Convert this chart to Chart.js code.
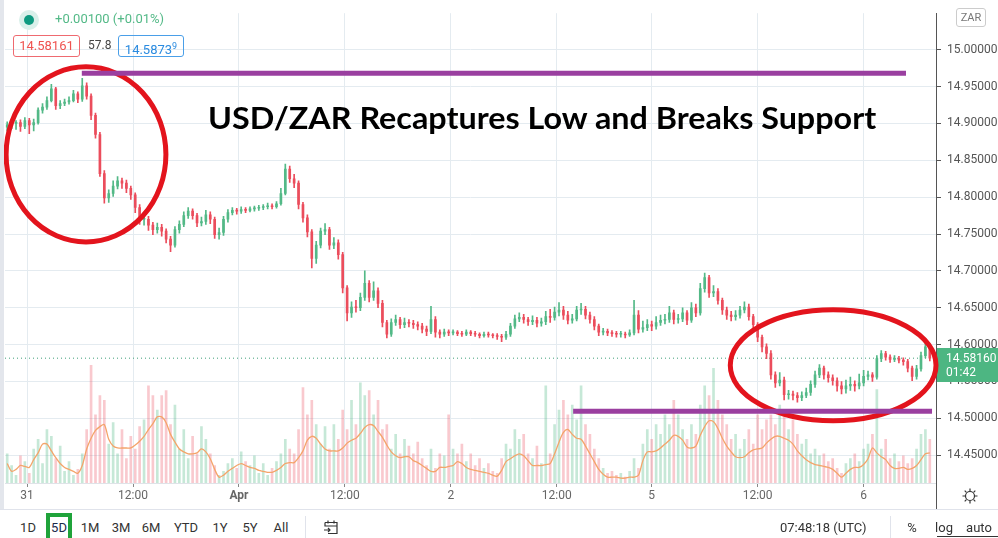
<!DOCTYPE html>
<html lang="en">
<head>
<meta charset="UTF-8">
<title>USD/ZAR 5D</title>
<style>
  body { margin: 0; width: 998px; height: 538px; background: #fff; position: relative; overflow: hidden;
         font-family: Roboto, "Liberation Sans", sans-serif; color: #333; }
  #chartBox { position: absolute; left: 0; top: 0; width: 998px; height: 510px; }
  .abs { position: absolute; white-space: nowrap; }
  .leftStrip { left: 0; top: 0; width: 4px; height: 510px; background: #e3e6ec; }
  .sepLine { left: 0; top: 509px; width: 998px; height: 1px; background: #e0e3eb; }
  .box { height: 20px; line-height: 20px; border-radius: 3px; font-size: 13px; text-align: center; top: 35px; }
  #title { left: 208px; top: 102px; font: bold 31px Lato, "Open Sans", sans-serif; color: #000; line-height: 31px;
           transform-origin: 0 0; }
  .tb { top: 519px; font-size: 13px; line-height: 18px; color: #333; transform: translateX(-50%); }
</style>
</head>
<body>
  <div id="chartBox"><canvas id="fxChart" width="998" height="510"></canvas></div>
  <div class="abs leftStrip"></div>
  <div class="abs sepLine"></div>

  <!--legend row-->
  <div class="abs" style="left:19px;top:10px;width:20px;height:20px;border-radius:50%;background:#d9f0ea"></div>
  <div class="abs" style="left:24px;top:15px;width:10px;height:10px;border-radius:50%;background:#0e9a80"></div>
  <div class="abs" style="left:55px;top:11px;font-size:13px;color:#53b987">+0.00100 (+0.01%)</div>
  <div class="abs box" style="left:13px;width:65px;border:1px solid #ef6a70;color:#ef5350">14.58161</div>
  <div class="abs" style="left:88px;top:38px;font-size:12px;color:#444">57.8</div>
  <div class="abs box" style="left:118px;width:64px;border:1px solid #4a9fe8;color:#2a8be0">14.5873<sup style="font-size:9px;vertical-align:5px">9</sup></div>
  <div class="abs" style="left:956px;top:8px;width:28px;height:17px;line-height:17px;border:1px solid #ccc;border-radius:3px;font-size:11px;color:#777;text-align:center">ZAR</div>

  <div id="title" class="abs">USD/ZAR Recaptures Low and Breaks Support</div>

  <!--settings icon on the axis corner-->
  <svg class="abs" style="left:961px;top:487px" width="18" height="18" viewBox="0 0 18 18">
    <circle cx="9" cy="9" r="4.5" fill="none" stroke="#333" stroke-width="1.2"/>
    <path d="M9 1.5v2.5M9 14v2.5M1.5 9h2.5M14 9h2.5M3.7 3.7l1.7 1.7M12.6 12.6l1.7 1.7M3.7 14.3l1.7-1.7M12.6 5.4l1.7-1.7" stroke="#333" stroke-width="1.2"/>
  </svg>

  <!--bottom toolbar-->
  <div class="abs" style="left:46px;top:513px;width:18px;height:21px;border:4px solid #1fa33a;border-bottom:none;background:#fff"></div>
  <div class="abs tb" style="left:59px;color:#1b2a4a">5D</div>
  <div class="abs tb" style="left:28px">1D</div>
  <div class="abs tb" style="left:90px">1M</div>
  <div class="abs tb" style="left:121px">3M</div>
  <div class="abs tb" style="left:151px">6M</div>
  <div class="abs tb" style="left:186px">YTD</div>
  <div class="abs tb" style="left:220px">1Y</div>
  <div class="abs tb" style="left:250px">5Y</div>
  <div class="abs tb" style="left:281px">All</div>
  <div class="abs" style="left:305px;top:516px;width:1px;height:22px;background:#e0e3eb"></div>
  <svg class="abs" style="left:322px;top:518px" width="18" height="18" viewBox="0 0 18 18">
    <path d="M3 4.5h12v11H6M3 4.5v4M6 2.5v3M12 2.5v3M3 8h12M2 12h6M6 10l2 2-2 2" fill="none" stroke="#333" stroke-width="1.2"/>
  </svg>
  <div class="abs" style="left:780px;top:519px;font-size:13px;line-height:18px">07:48:18 (UTC)</div>
  <div class="abs" style="left:890px;top:516px;width:1px;height:22px;background:#e0e3eb"></div>
  <div class="abs tb" style="left:912px">%</div>
  <div class="abs tb" style="left:944px">log</div>
  <div class="abs tb" style="left:979px">auto</div>
  <div class="abs" style="left:937px;top:536px;width:61px;height:1px;background:#333"></div>

<script src="https://cdn.jsdelivr.net/npm/chart.js"></script>
<script>
    // 30 minute bars, 30 Mar 21:30 .. 6 Apr 07:48 (weekend squeezed out)
    const firstOpen = 14.895;
    const closes = [
        14.898,14.900,14.901,14.896,14.904,14.898,14.901,14.918,14.922,14.931,
        14.947,14.924,14.927,14.929,14.931,14.940,14.933,14.951,14.937,14.911,
        14.885,14.832,14.799,14.805,14.815,14.822,14.819,14.812,14.803,14.786,
        14.770,14.770,14.762,14.756,14.759,14.754,14.743,14.735,14.756,14.763,
        14.775,14.781,14.775,14.765,14.767,14.776,14.770,14.749,14.752,14.770,
        14.779,14.782,14.781,14.783,14.782,14.784,14.785,14.786,14.787,14.788,
        14.787,14.791,14.805,14.838,14.825,14.819,14.790,14.772,14.753,14.717,
        14.735,14.754,14.756,14.735,14.738,14.722,14.677,14.643,14.651,14.650,
        14.664,14.683,14.664,14.673,14.656,14.630,14.614,14.630,14.634,14.627,
        14.630,14.629,14.627,14.625,14.621,14.618,14.634,14.617,14.614,14.617,
        14.616,14.617,14.615,14.614,14.617,14.615,14.614,14.612,14.614,14.613,
        14.612,14.611,14.610,14.614,14.625,14.635,14.637,14.634,14.631,14.633,
        14.629,14.631,14.638,14.637,14.644,14.647,14.640,14.633,14.635,14.647,
        14.648,14.640,14.634,14.625,14.617,14.618,14.616,14.615,14.614,14.614,
        14.613,14.616,14.640,14.621,14.623,14.627,14.625,14.630,14.633,14.634,
        14.643,14.634,14.635,14.643,14.633,14.650,14.643,14.676,14.691,14.670,
        14.672,14.660,14.647,14.640,14.638,14.640,14.647,14.651,14.638,14.627,
        14.610,14.597,14.588,14.559,14.548,14.552,14.532,14.533,14.531,14.528,
        14.531,14.535,14.546,14.559,14.568,14.559,14.555,14.551,14.544,14.540,
        14.544,14.546,14.544,14.548,14.557,14.559,14.556,14.581,14.588,14.583,
        14.580,14.581,14.579,14.577,14.568,14.557,14.567,14.585,14.597,14.5816
    ];
    const highs = [
        14.902,14.905,14.904,14.905,14.908,14.907,14.906,14.921,14.927,14.936,
        14.953,14.949,14.931,14.933,14.936,14.945,14.943,14.961,14.955,14.940,
        14.914,14.888,14.836,14.810,14.822,14.828,14.826,14.823,14.815,14.806,
        14.790,14.778,14.774,14.766,14.765,14.763,14.757,14.747,14.760,14.768,
        14.780,14.786,14.784,14.778,14.773,14.782,14.780,14.773,14.758,14.774,
        14.783,14.786,14.785,14.787,14.786,14.787,14.788,14.789,14.790,14.792,
        14.791,14.794,14.812,14.845,14.842,14.831,14.822,14.793,14.776,14.756,
        14.740,14.758,14.764,14.759,14.745,14.742,14.725,14.680,14.658,14.660,
        14.670,14.700,14.687,14.685,14.677,14.660,14.633,14.635,14.640,14.637,
        14.636,14.634,14.633,14.631,14.629,14.625,14.652,14.638,14.620,14.621,
        14.620,14.620,14.619,14.618,14.620,14.619,14.618,14.616,14.617,14.617,
        14.615,14.615,14.614,14.618,14.629,14.640,14.643,14.641,14.637,14.639,
        14.637,14.636,14.645,14.648,14.651,14.657,14.652,14.645,14.641,14.652,
        14.656,14.652,14.644,14.638,14.628,14.622,14.621,14.619,14.618,14.618,
        14.617,14.620,14.660,14.646,14.632,14.634,14.632,14.638,14.640,14.641,
        14.652,14.647,14.641,14.650,14.646,14.657,14.655,14.683,14.697,14.694,
        14.680,14.676,14.663,14.651,14.645,14.646,14.652,14.658,14.655,14.641,
        14.630,14.613,14.601,14.592,14.563,14.562,14.556,14.538,14.537,14.535,
        14.536,14.541,14.551,14.564,14.573,14.571,14.563,14.559,14.555,14.550,
        14.552,14.556,14.551,14.560,14.565,14.564,14.562,14.585,14.592,14.591,
        14.586,14.585,14.584,14.582,14.580,14.571,14.572,14.590,14.608,14.600
    ];
    const lows = [
        14.890,14.893,14.892,14.889,14.893,14.886,14.890,14.899,14.914,14.919,
        14.929,14.919,14.920,14.924,14.926,14.929,14.928,14.930,14.933,14.905,
        14.880,14.828,14.792,14.793,14.801,14.811,14.812,14.806,14.797,14.779,
        14.763,14.762,14.755,14.749,14.751,14.747,14.738,14.726,14.732,14.751,
        14.760,14.771,14.770,14.760,14.761,14.763,14.764,14.744,14.743,14.748,
        14.766,14.776,14.777,14.778,14.779,14.780,14.781,14.782,14.783,14.784,
        14.784,14.785,14.789,14.803,14.820,14.813,14.784,14.766,14.746,14.704,
        14.710,14.731,14.749,14.729,14.730,14.716,14.670,14.632,14.637,14.644,
        14.646,14.660,14.658,14.660,14.650,14.624,14.609,14.611,14.626,14.622,
        14.623,14.624,14.622,14.620,14.616,14.612,14.615,14.610,14.609,14.611,
        14.612,14.613,14.612,14.611,14.612,14.612,14.611,14.609,14.610,14.610,
        14.609,14.607,14.604,14.607,14.611,14.622,14.631,14.629,14.626,14.627,
        14.624,14.625,14.627,14.630,14.633,14.639,14.634,14.628,14.629,14.632,
        14.641,14.635,14.629,14.620,14.612,14.613,14.612,14.611,14.610,14.610,
        14.609,14.611,14.613,14.616,14.617,14.619,14.619,14.621,14.626,14.628,
        14.630,14.628,14.629,14.631,14.627,14.630,14.638,14.640,14.671,14.664,
        14.665,14.655,14.641,14.634,14.632,14.633,14.636,14.643,14.633,14.621,
        14.604,14.590,14.581,14.553,14.542,14.544,14.525,14.526,14.525,14.522,
        14.524,14.528,14.531,14.542,14.555,14.553,14.549,14.545,14.537,14.533,
        14.534,14.538,14.537,14.540,14.544,14.552,14.550,14.553,14.577,14.579,
        14.576,14.577,14.575,14.572,14.563,14.551,14.553,14.564,14.582,14.578
    ];
    const volumes = [
        30,18,8,28,22,10,35,45,20,55,
        48,25,38,12,22,8,14,30,55,121,
        70,90,85,40,62,30,55,25,48,35,
        58,65,100,90,75,90,95,60,80,35,
        55,25,48,30,58,45,30,18,8,12,
        20,25,15,32,22,18,28,10,20,8,
        15,22,30,45,35,30,55,98,70,85,
        60,40,58,35,60,45,75,55,85,60,
        103,90,95,70,85,55,60,35,50,30,
        45,38,30,42,25,18,35,15,30,28,
        70,35,30,40,22,30,18,25,15,20,
        12,10,25,40,35,55,45,50,30,25,
        38,20,100,30,60,75,85,70,80,65,
        100,60,50,35,25,15,10,12,8,10,
        6,12,25,15,40,55,45,60,50,70,
        60,85,70,55,45,60,50,80,100,90,
        118,85,70,60,45,50,35,45,55,40,
        70,55,65,70,60,80,70,55,65,50,
        40,45,30,35,28,30,22,25,15,10,
        20,25,30,22,35,40,50,96,35,45,
        25,30,22,28,20,25,35,50,55,45
    ];
    const volumeMA = [
        20,12,14,18,17,16,24,31,40,40,
        33,26,20,16,14,12,10,18,35,46,
        54,58,60,45,38,36,36,36,36,39,
        43,48,55,61,68,68,62,50,42,35,
        32,30,30,31,35,32,25,14,6,8,
        12,15,18,20,18,16,15,13,12,11,
        11,13,16,20,21,21,26,33,44,48,
        46,40,35,33,33,33,36,41,44,46,
        51,57,60,59,53,47,39,32,28,26,
        27,27,23,21,18,15,12,12,16,16,
        17,18,22,20,16,14,13,12,11,10,
        8,7,13,22,25,28,30,28,23,18,
        18,18,19,20,30,42,52,55,50,46,
        45,38,30,22,14,9,6,6,6,5,
        5,6,6,8,23,32,32,33,36,40,
        44,49,48,44,37,36,38,49,58,64,
        63,56,46,38,32,27,26,27,31,34,
        35,36,41,45,48,48,46,44,40,33,
        28,24,21,19,18,17,16,14,10,6,
        10,14,16,16,19,25,36,31,27,24,
        18,15,15,16,14,15,18,24,30,31
    ];
    const priceTicks = [14.45, 14.50, 14.55, 14.60, 14.65, 14.70, 14.75, 14.80, 14.85, 14.90, 14.95, 15.00];
    const timeLabels = ['31', '12:00', 'Apr', '12:00', '2', '12:00', '5', '12:00', '6'];
    const timeTickAt = [4.5, 28.5, 52.5, 76.5, 100.5, 124.5, 146, 170, 194];
    const lastPrice = 14.5816;
    const countdown = '01:42';

    // drawings on top of the chart (bar index / price coordinates)
    const circles = [
        {x: 17.85, price: 14.858, rx: 18.1, ry: 0.1187},
        {x: 187.1, price: 14.572, rx: 23.3, ry: 0.0752}
    ];
    const levels = [
        {from: 16.9, to: 203.6, price: 14.968},
        {from: 128.2, to: 209.5, price: 14.5095}
    ];

    const upColor = '#53b987';
    const downColor = '#eb4d5c';
    const gridColor = '#e4ebf0';

    let opens = closes.map((c, i) => i === 0 ? firstOpen : closes[i - 1]);
    let isUp = closes.map((c, i) => c >= opens[i]);

    const overlayPlugin = {
        id: 'overlay',
        afterDraw(chart) {
            const ctx = chart.ctx;
            const area = chart.chartArea;
            const xs = chart.scales.x;
            const ys = chart.scales.y;
            ctx.save();

            // price axis line runs on through the time row
            ctx.strokeStyle = '#555';
            ctx.lineWidth = 1;
            ctx.beginPath();
            ctx.moveTo(area.right + 0.5, area.bottom);
            ctx.lineTo(area.right + 0.5, 510);
            ctx.stroke();

            // last price label
            const py = Math.round(ys.getPixelForValue(lastPrice));
            ctx.fillStyle = '#4db682';
            ctx.fillRect(area.right + 1, py - 10, 62, 34);
            ctx.fillStyle = '#fff';
            ctx.font = '12px Roboto';
            ctx.textBaseline = 'middle';
            ctx.fillText(lastPrice.toFixed(5), area.right + 10, py + 1);
            ctx.fillText(countdown, area.right + 10, py + 15);

            // red circles
            ctx.strokeStyle = '#e3141d';
            ctx.lineWidth = 5;
            circles.forEach(c => {
                const cx = xs.getPixelForValue(c.x);
                const cy = ys.getPixelForValue(c.price);
                const rx = xs.getPixelForValue(c.x + c.rx) - cx;
                const ry = cy - ys.getPixelForValue(c.price + c.ry);
                ctx.beginPath();
                ctx.ellipse(cx, cy, rx, ry, 0, 0, Math.PI * 2);
                ctx.stroke();
            });

            // purple levels
            ctx.strokeStyle = '#9a3fa0';
            ctx.lineWidth = 5;
            levels.forEach(l => {
                const ly = ys.getPixelForValue(l.price);
                ctx.beginPath();
                ctx.moveTo(xs.getPixelForValue(l.from), ly);
                ctx.lineTo(xs.getPixelForValue(l.to), ly);
                ctx.stroke();
            });
            ctx.restore();
        }
    };

    function makeChart() {
        const ctx = document.getElementById('fxChart');
        const wickData = lows.map((lo, i) => ({x: i, y: [lo, highs[i]]}));
        const bodyData = closes.map((c, i) => ({x: i, y: [opens[i], c]}));
        const volData = volumes.map((v, i) => ({x: i, y: v}));
        const maData = volumeMA.map((v, i) => ({x: i, y: v}));
        const candleColors = isUp.map(u => u ? upColor : downColor);
        const volColors = isUp.map(u => u ? 'rgba(83,185,135,0.33)' : 'rgba(235,77,92,0.3)');

        new Chart(ctx, {
            type: 'bar',
            data: {
                datasets: [
                    {type: 'bar', data: volData, yAxisID: 'yv', backgroundColor: volColors,
                     barThickness: 2, grouped: false, order: 5},
                    {type: 'line', data: maData, yAxisID: 'yv', borderColor: '#f4a46a', borderWidth: 1.3,
                     pointRadius: 0, tension: 0.3, order: 4},
                    {type: 'line', data: [{x: -0.5, y: lastPrice}, {x: 210.4, y: lastPrice}], yAxisID: 'y',
                     borderColor: '#3f9f78', borderWidth: 1, borderDash: [1, 3], pointRadius: 0, order: 3},
                    {type: 'bar', data: wickData, yAxisID: 'y', backgroundColor: candleColors,
                     barThickness: 1, grouped: false, order: 2},
                    {type: 'bar', data: bodyData, yAxisID: 'y', backgroundColor: candleColors,
                     barThickness: 2, minBarLength: 1, grouped: false, order: 1}
                ]
            },
            options: {
                responsive: false,
                animation: false,
                events: [],
                layout: {padding: {left: 5, right: 0, top: 0, bottom: 0}},
                plugins: {legend: {display: false}, tooltip: {enabled: false}},
                scales: {
                    x: {
                        type: 'linear',
                        min: -0.5,
                        max: 210.4,
                        offset: false,
                        afterFit: s => { s.height = 27; },
                        afterBuildTicks: s => { s.ticks = timeTickAt.map(v => ({value: v})); },
                        grid: {color: gridColor, tickColor: '#888', tickLength: 4, offset: false},
                        border: {display: true, color: '#dfe3e8'},
                        ticks: {
                            autoSkip: false,
                            maxRotation: 0,
                            padding: 2,
                            color: '#666',
                            font: c => ({family: 'Roboto', size: 12,
                                         weight: (c.tick && c.tick.label === 'Apr') ? 'bold' : 'normal'}),
                            callback: (v, i) => timeLabels[i]
                        }
                    },
                    y: {
                        position: 'right',
                        min: 14.4123,
                        max: 15.0495,
                        afterFit: s => { s.width = 62; },
                        afterBuildTicks: s => { s.ticks = priceTicks.map(v => ({value: v})); },
                        grid: {color: gridColor, tickColor: '#555', tickLength: 5},
                        border: {display: true, color: '#555'},
                        ticks: {
                            padding: 6,
                            color: '#555',
                            font: {family: 'Roboto', size: 12},
                            callback: v => v.toFixed(5)
                        }
                    },
                    yv: {display: false, min: 0, max: 483}
                }
            },
            plugins: [overlayPlugin]
        });
    }

    function fitTitle() {
        const t = document.getElementById('title');
        t.style.transform = 'scaleX(' + (668 / t.offsetWidth) + ')';
    }

    makeChart();
    fitTitle();
    if (document.fonts) document.fonts.ready.then(fitTitle);
</script>
</body>
</html>
